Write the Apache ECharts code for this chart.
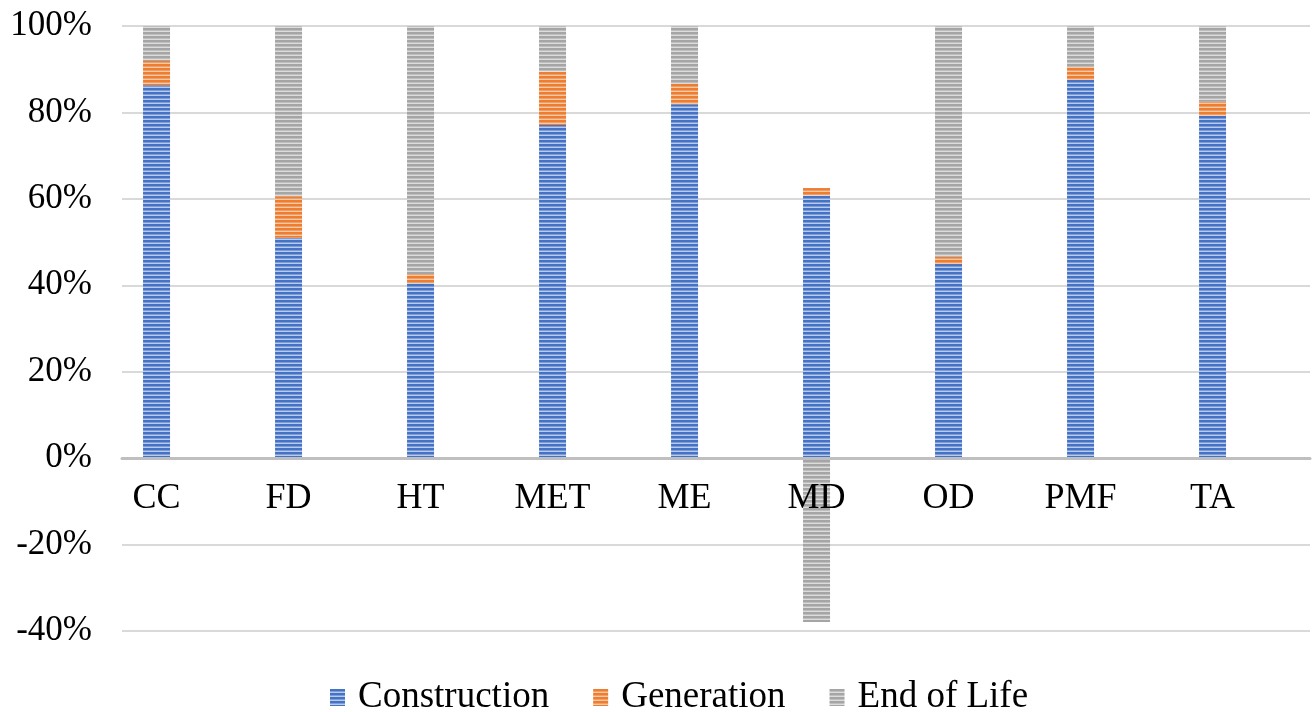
<!DOCTYPE html>
<html>
<head>
<meta charset="utf-8">
<script src="https://cdn.jsdelivr.net/npm/echarts@6/dist/echarts.min.js"></script>
<style>
  html, body { margin: 0; padding: 0; background: #fff; }
  #chart { width: 1312px; height: 712px; }
</style>
</head>
<body>
<div id="chart"></div>
<script>
// Share of impact by life-cycle stage, per category
const categories = ['CC', 'FD', 'HT', 'MET', 'ME', 'MD', 'OD', 'PMF', 'TA'];
const construction = [86.3, 51.0, 40.5, 77.1, 81.9, 60.8, 44.9, 87.5, 79.2];
const generation = [5.6, 9.6, 2.1, 12.3, 4.7, 1.7, 1.7, 3.0, 3.3];
const endOfLife = [8.1, 39.4, 57.4, 10.6, 13.4, -37.9, 53.4, 9.5, 17.5];
const seriesNames = ['Construction', 'Generation', 'End of Life'];
const yMin = -40, yMax = 100, yStep = 20;

// Horizontal striped fill
function stripes(base, mid, light) {
  const c = document.createElement('canvas');
  c.width = 8; c.height = 4;
  const ctx = c.getContext('2d');
  ctx.fillStyle = base; ctx.fillRect(0, 0, 8, 4);
  ctx.fillStyle = mid; ctx.fillRect(0, 2, 8, 1);
  ctx.fillStyle = light; ctx.fillRect(0, 3, 8, 1);
  return { image: c, repeat: 'repeat' };
}

const fills = [
  stripes('#4472C4', '#7E9CD6', '#B9CBEC'),
  stripes('#ED7D31', '#F29D63', '#F8C9A6'),
  stripes('#A5A5A5', '#BEBEBE', '#DCDCDC')
];

const FONT = 'Liberation Serif';
const BAR_W = 27;
const GAP = '133%';
const GRID = { left: 122, right: 2, top: 26, bottom: 81 };
const plotH = 712 - GRID.top - GRID.bottom;
// lift the category axis (line + labels) from the bottom edge up to the zero line
const zeroOffset = -plotH * (0 - yMin) / (yMax - yMin);

const chart = echarts.init(document.getElementById('chart'), null, { renderer: 'canvas' });

const values = [construction, generation, endOfLife];
const series = seriesNames.map((name, i) => ({
  name: name,
  type: 'bar',
  stack: 'total',
  data: values[i],
  barWidth: BAR_W,
  barGap: GAP,
  itemStyle: { color: fills[i] },
  emphasis: { disabled: true }
}));
// empty companion stack that keeps the visible bars left of band centre
series.push({
  name: 'spacer',
  type: 'bar',
  stack: 'spacer',
  data: categories.map(() => null),
  barWidth: BAR_W,
  barGap: GAP,
  silent: true
});

chart.setOption({
  animation: false,
  grid: Object.assign({ containLabel: false }, GRID),
  legend: {
    data: seriesNames,
    bottom: -9,
    left: 325,
    itemWidth: 15,
    itemHeight: 17,
    itemGap: 44,
    icon: 'rect',
    formatter: name => '{t|' + name + '}',
    textStyle: {
      rich: { t: { fontFamily: FONT, fontSize: 37, color: '#000', padding: [0, 0, 0, 8] } }
    }
  },
  xAxis: {
    type: 'category',
    data: categories,
    z: 10,
    offset: zeroOffset,
    axisLine: { onZero: false, lineStyle: { color: '#BFBFBF', width: 3 } },
    axisTick: { show: false },
    axisLabel: {
      fontFamily: FONT, fontSize: 36, color: '#000',
      margin: 22,
      padding: [0, 63, 0, 0]
    }
  },
  yAxis: {
    type: 'value',
    min: yMin,
    max: yMax,
    interval: yStep,
    axisLine: { show: false },
    axisTick: { show: false },
    splitLine: { lineStyle: { color: '#D9D9D9', width: 2 } },
    axisLabel: {
      formatter: '{value}%',
      fontFamily: FONT, fontSize: 35, color: '#000',
      margin: 30
    }
  },
  series: series
});
</script>
</body>
</html>
